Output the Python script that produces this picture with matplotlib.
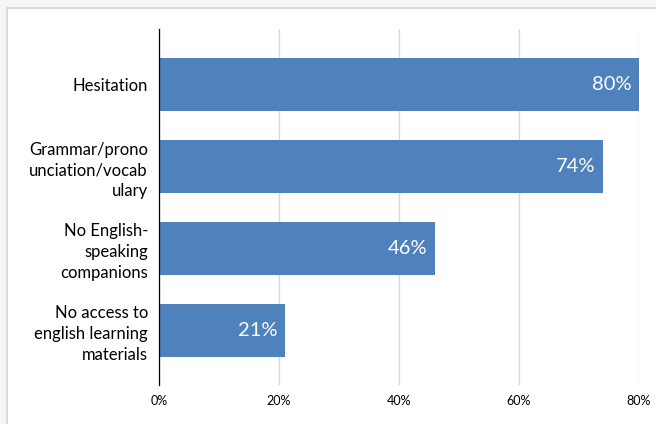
import matplotlib
matplotlib.use("Agg")
import matplotlib.pyplot as plt
from matplotlib.patches import Rectangle

# survey data
categories = [
    "Hesitation",
    "Grammar/prono\nunciation/vocab\nulary",
    "No English-\nspeaking\ncompanions",
    "No access to\nenglish learning\nmaterials",
]
values = [80, 74, 46, 21]
xticks = [0, 20, 40, 60, 80]

plt.rcParams['font.family'] = ['Lato', 'DejaVu Sans']

fig = plt.figure(figsize=(6.56, 4.24), dpi=100)
fig.patch.set_facecolor('#f6f6f6')

# white card with a faint border, like the slide frame
card = Rectangle((7 / 656, -0.05), 1.0, 1 - 8 / 424 + 0.05,
                 transform=fig.transFigure, facecolor='white',
                 edgecolor='#d6d6d6', linewidth=1.2, zorder=-1)
fig.add_artist(card)

ax = fig.add_axes([159 / 656, 1 - 385 / 424, 480 / 656, 356 / 424])
ax.set_facecolor('none')
ax.set_zorder(2)

ypos = list(range(len(categories)))
bars = ax.barh(ypos, values, height=0.65, color='#4f81bd', zorder=3)

for b, v in zip(bars, values):
    ax.text(b.get_width() - 1.3, b.get_y() + b.get_height() / 2, f"{v}%",
            ha='right', va='center', color='white', fontsize=14.5, zorder=4)

ax.set_xlim(0, 80)
ax.set_ylim(3 + 0.67, -0.68)
ax.set_xticks(xticks)
ax.set_xticklabels([f"{t}%" for t in xticks], fontsize=9)
ax.set_yticks(ypos)
ax.set_yticklabels(categories, fontsize=12, linespacing=1.38)
ax.tick_params(axis='both', length=0)
ax.tick_params(axis='y', pad=8)
ax.tick_params(axis='x', pad=7)

ax.grid(axis='x', color='#d9d9d9', linewidth=1, zorder=0)
for side in ['top', 'right', 'bottom']:
    ax.spines[side].set_visible(False)
ax.spines['left'].set_color('black')
ax.spines['left'].set_linewidth(0.9)
ax.spines['left'].set_zorder(5)

fig.savefig("out.png", dpi=100, facecolor=fig.get_facecolor())
